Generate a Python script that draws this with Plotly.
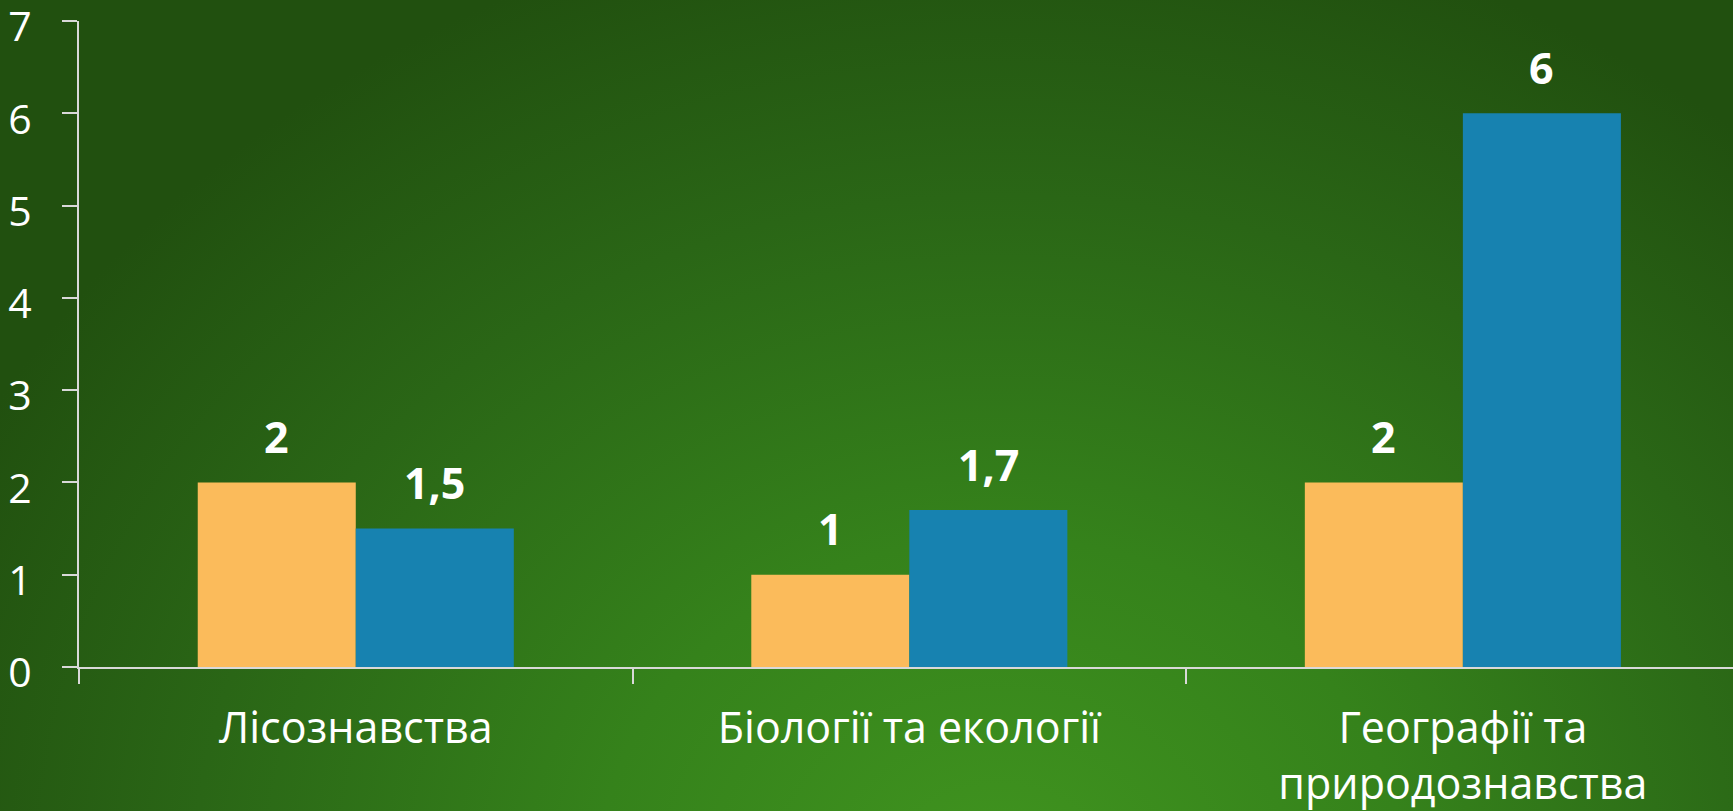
import base64
import plotly.graph_objects as go

categories = ["Лісознавства", "Біології та екології", "Географії та<br>природознавства"]
series_a = [2, 1, 2]
series_b = [1.5, 1.7, 6]
y_ticks = [0, 1, 2, 3, 4, 5, 6, 7]
y_tick_labels = ["0", "1", "2", "3", "4", "5", "6", "7"]

ORANGE = "#FBBB5B"
BLUE = "#1782B0"
FONT = "Open Sans"
W, H = 1733, 811
ML, MR, MT, MB = 79, 0, 21, 144

svg = """<svg xmlns='http://www.w3.org/2000/svg' width='1733' height='811'>
<defs><radialGradient id='g' gradientUnits='userSpaceOnUse' cx='1000' cy='880' r='1150'
 gradientTransform='translate(1000 880) scale(1 0.85) translate(-1000 -880)'>
<stop offset='0' stop-color='#40941f'/>
<stop offset='0.35' stop-color='#35821b'/>
<stop offset='0.7' stop-color='#2a6616'/>
<stop offset='1' stop-color='#21500f'/>
</radialGradient></defs>
<rect width='1733' height='811' fill='url(#g)'/></svg>"""
bg_src = "data:image/svg+xml;base64," + base64.b64encode(svg.encode()).decode()

pw = W - ML - MR
ph = H - MT - MB

fig = go.Figure()
fig.add_trace(go.Bar(x=categories, y=series_a, marker=dict(color=ORANGE, line=dict(width=0)),
                     name="A", hoverinfo="skip"))
fig.add_trace(go.Bar(x=categories, y=series_b, marker=dict(color=BLUE, line=dict(width=0)),
                     name="B", hoverinfo="skip"))

def fmt(v):
    return ("%g" % v).replace(".", ",")

annotations = []
for vals, shift in ((series_a, -79), (series_b, 79)):
    for c, v in zip(categories, vals):
        annotations.append(dict(x=c, y=v, xref="x", yref="y", text="<b>%s</b>" % fmt(v),
                                showarrow=False, xshift=shift, yshift=46, yanchor="middle",
                                font=dict(family=FONT, size=43, color="white")))

fig.update_layout(
    width=W, height=H,
    margin=dict(l=ML, r=MR, t=MT, b=MB, autoexpand=False),
    paper_bgcolor="#2a6616",
    plot_bgcolor="rgba(0,0,0,0)",
    barmode="group", bargap=0.429, bargroupgap=0,
    showlegend=False,
    annotations=annotations,
    images=[dict(source=bg_src, xref="paper", yref="paper",
                 x=-ML / pw, y=1 + MT / ph, sizex=W / pw, sizey=H / ph,
                 xanchor="left", yanchor="top", sizing="stretch", layer="below")],
    font=dict(family=FONT, color="white"),
)
fig.update_xaxes(
    range=[-0.5, 2.488], showline=True, linecolor="#d9d9d9", linewidth=2,
    ticks="outside", tickson="boundaries", ticklen=15, tickcolor="#d9d9d9", tickwidth=1.5,
    showgrid=False, zeroline=False, tickfont=dict(family=FONT, size=43, color="white"),
    ticklabelstandoff=22, automargin=False,
)
fig.update_yaxes(
    range=[0, 7], tickvals=y_ticks, ticktext=y_tick_labels,
    showline=True, linecolor="#d9d9d9", linewidth=2,
    ticks="outside", ticklen=15, tickcolor="#d9d9d9", tickwidth=2,
    showgrid=False, zeroline=False, tickfont=dict(family=FONT, size=41, color="white"),
    ticklabelstandoff=22, ticklabelshift=6, automargin=False, ticklabeloverflow="allow",
)

fig.write_html(
    "out.html",
    config={"displayModeBar": False},
    post_script="document.body.style.margin='0';document.body.style.overflow='hidden';",
)
